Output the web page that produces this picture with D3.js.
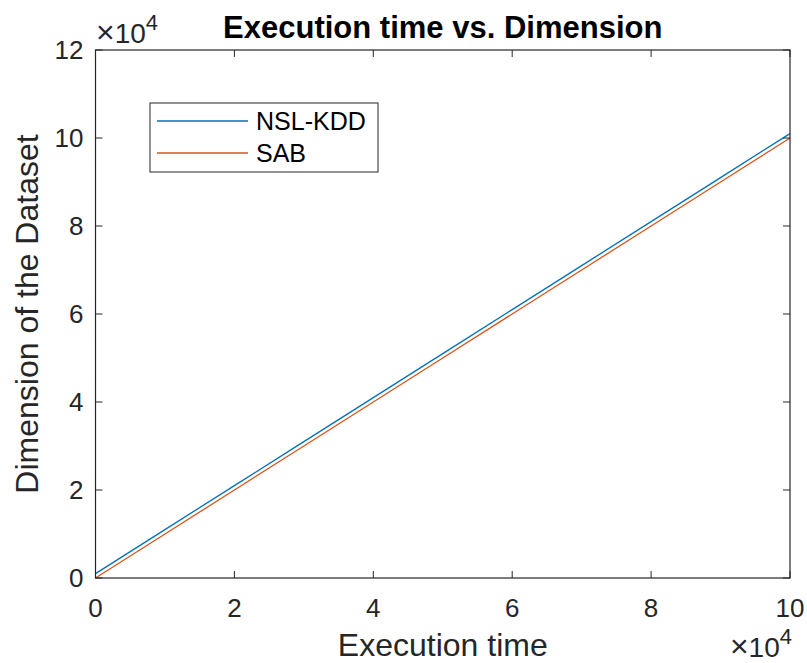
<!DOCTYPE html>
<html>
<head>
<meta charset="utf-8">
<script src="https://cdn.jsdelivr.net/npm/d3@7"></script>
<style>
  body { margin: 0; background: #fff; }
  svg { display: block; font-family: "Liberation Sans", Arial, sans-serif; }
</style>
</head>
<body>
<svg id="chart" width="807" height="663"></svg>
<script>
// Execution time samples (x) and dataset dimension for each method
const executionTime = [0, 10000, 20000, 30000, 40000, 50000, 60000, 70000, 80000, 90000, 100000];
const nslKdd = [1000, 11000, 21000, 31000, 41000, 51000, 61000, 71000, 81000, 91000, 101000];
const sab = [0, 10000, 20000, 30000, 40000, 50000, 60000, 70000, 80000, 90000, 100000];
const seriesNames = ["NSL-KDD", "SAB"];
const seriesColors = ["#0072BD", "#D95319"];
const xTicks = [0, 2, 4, 6, 8, 10];
const yTicks = [0, 2, 4, 6, 8, 10, 12];

(function () {
  const svg = d3.select("#chart");
  const pLeft = 95.5, pRight = 790, pTop = 50, pBottom = 578;
  const scale = 1e4;

  const x = d3.scaleLinear().domain([0, 10 * scale]).range([pLeft, pRight]);
  const y = d3.scaleLinear().domain([0, 12 * scale]).range([pBottom, pTop]);

  const axisColor = "#262626";
  const tickLen = 7;
  const tickFont = 26;

  // Plot lines
  const series = [nslKdd, sab];
  const line = d3.line().x((d, i) => x(executionTime[i])).y(d => y(d));
  series.forEach((vals, k) => {
    svg.append("path")
      .datum(vals)
      .attr("fill", "none")
      .attr("stroke", seriesColors[k])
      .attr("stroke-width", 1.3)
      .attr("d", line);
  });

  // Axes box with inward ticks on all four sides
  const g = svg.append("g");
  g.append("rect")
    .attr("x", pLeft).attr("y", pTop)
    .attr("width", pRight - pLeft).attr("height", pBottom - pTop)
    .attr("fill", "none").attr("stroke", axisColor).attr("stroke-width", 1.2);

  xTicks.forEach(t => {
    const px = x(t * scale);
    g.append("line").attr("x1", px).attr("x2", px).attr("y1", pBottom).attr("y2", pBottom - tickLen)
      .attr("stroke", axisColor).attr("stroke-width", 1);
    g.append("line").attr("x1", px).attr("x2", px).attr("y1", pTop).attr("y2", pTop + tickLen)
      .attr("stroke", axisColor).attr("stroke-width", 1);
    g.append("text").attr("x", px).attr("y", 617)
      .attr("text-anchor", "middle").attr("font-size", tickFont).attr("fill", axisColor).text(t);
  });

  yTicks.forEach(t => {
    const py = y(t * scale);
    g.append("line").attr("x1", pLeft).attr("x2", pLeft + tickLen).attr("y1", py).attr("y2", py)
      .attr("stroke", axisColor).attr("stroke-width", 1);
    g.append("line").attr("x1", pRight).attr("x2", pRight - tickLen).attr("y1", py).attr("y2", py)
      .attr("stroke", axisColor).attr("stroke-width", 1);
    g.append("text").attr("x", pLeft - 12).attr("y", py + 9)
      .attr("text-anchor", "end").attr("font-size", tickFont).attr("fill", axisColor).text(t);
  });

  // Exponent labels (×10^4)
  function exponent(xPos, yPos, anchor) {
    const t = svg.append("text").attr("x", xPos).attr("y", yPos)
      .attr("text-anchor", anchor).attr("font-size", 28).attr("fill", axisColor);
    t.append("tspan").attr("font-size", 32).text("\u00d7");
    t.append("tspan").text("10");
    t.append("tspan").attr("dy", -13).attr("font-size", 22).text("4");
  }
  exponent(96, 43, "start");
  exponent(792, 657, "end");

  // Title and axis labels
  svg.append("text").attr("x", (pLeft + pRight) / 2).attr("y", 38)
    .attr("text-anchor", "middle").attr("font-size", 31).attr("font-weight", "bold")
    .attr("fill", "#000").text("Execution time vs. Dimension");

  svg.append("text").attr("x", (pLeft + pRight) / 2).attr("y", 656)
    .attr("text-anchor", "middle").attr("font-size", 32).attr("fill", axisColor)
    .text("Execution time");

  svg.append("text")
    .attr("transform", `translate(38, ${(pTop + pBottom) / 2}) rotate(-90)`)
    .attr("text-anchor", "middle").attr("font-size", 32).attr("fill", axisColor)
    .text("Dimension of the Dataset");

  // Legend
  const lg = svg.append("g");
  lg.append("rect").attr("x", 150).attr("y", 103).attr("width", 228).attr("height", 69)
    .attr("fill", "#fff").attr("stroke", axisColor).attr("stroke-width", 1);
  seriesNames.forEach((name, i) => {
    const ly = 121 + i * 32;
    lg.append("line").attr("x1", 157).attr("x2", 248).attr("y1", ly).attr("y2", ly)
      .attr("stroke", seriesColors[i]).attr("stroke-width", 1.3);
    lg.append("text").attr("x", 256).attr("y", ly + 9)
      .attr("font-size", 25).attr("fill", "#000").text(name);
  });
})();
</script>
</body>
</html>
